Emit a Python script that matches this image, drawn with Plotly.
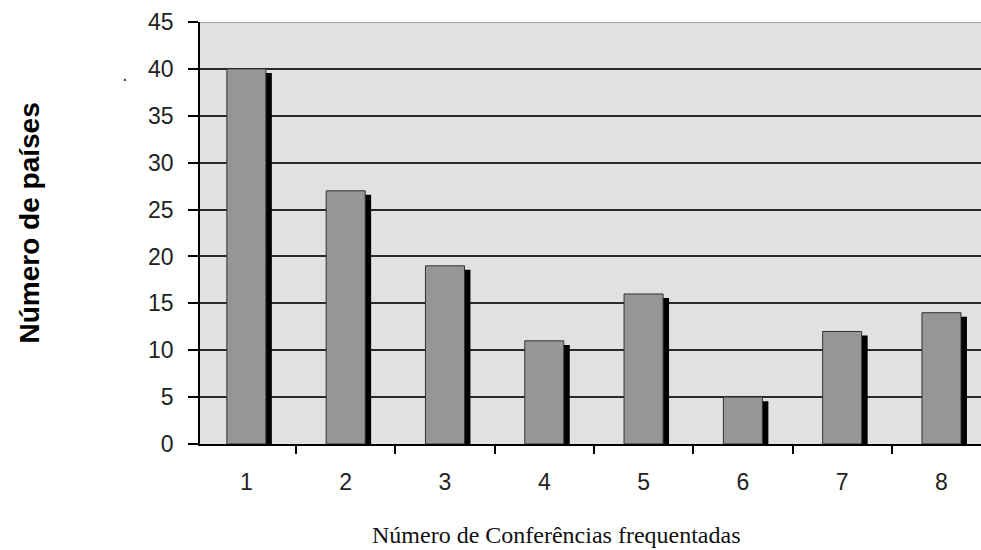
import plotly.graph_objects as go

categories = [1, 2, 3, 4, 5, 6, 7, 8]
values = [40, 27, 19, 11, 16, 5, 12, 14]
y_ticks = [0, 5, 10, 15, 20, 25, 30, 35, 40, 45]

bar_w = 0.393
shadow_dx = 0.06
shadow_dy = 0.43

fig = go.Figure()
# shadow
fig.add_trace(go.Bar(
    x=categories, y=[v - shadow_dy for v in values],
    width=bar_w, offset=-bar_w / 2 + shadow_dx,
    marker=dict(color="#000000", line=dict(width=0)),
    hoverinfo="skip", showlegend=False))
# front bars
fig.add_trace(go.Bar(
    x=categories, y=values,
    width=bar_w, offset=-bar_w / 2,
    marker=dict(color="#969696", line=dict(color="#333333", width=1)),
    showlegend=False))

fig.update_layout(
    width=981, height=550,
    margin=dict(l=200, r=0, t=22, b=106),
    paper_bgcolor="white", plot_bgcolor="#E1E1E1",
    barmode="overlay",
    font=dict(family="Liberation Sans, Arial", size=23, color="#222222"),
    xaxis=dict(
        range=[0.533, 8.398], tickmode="array", tickvals=categories,
        ticktext=[str(c) for c in categories], ticks="", showgrid=False,
        showline=True, linecolor="#000000", linewidth=1.5, zeroline=False,
        ticklabelstandoff=17,
        minor=dict(tickmode="linear", tick0=0.5, dtick=1, ticks="outside",
                   ticklen=8, tickcolor="#000000", tickwidth=1.5, showgrid=False),
    ),
    yaxis=dict(
        range=[0, 45], tickmode="array", tickvals=y_ticks,
        ticks="outside", ticklen=10, tickcolor="#000000", tickwidth=1.5,
        showgrid=True, gridcolor="#2a2a2a", gridwidth=1.5,
        showline=True, linecolor="#000000", linewidth=1.5, zeroline=False,
        ticklabelstandoff=10,
    ),
    shapes=[dict(type="line", xref="paper", yref="y", x0=0, x1=1, y0=45, y1=45,
                 line=dict(color="#A8A8A8", width=2), layer="above")],
    annotations=[
        dict(text="<b>Número de países</b>", textangle=-90, xref="paper", yref="paper",
             x=(29 - 200) / 781, y=(444 - 223.5) / 422, xanchor="center", yanchor="middle",
             showarrow=False,
             font=dict(family="Liberation Sans, Arial", size=28, color="#000000")),
        dict(text="Número de Conferências frequentadas", xref="paper", yref="paper",
             x=(556 - 200) / 781, y=(444 - 535) / 422, xanchor="center", yanchor="middle",
             showarrow=False,
             font=dict(family="Liberation Serif, Times New Roman", size=24, color="#111111")),
        dict(text=".", xref="paper", yref="paper", x=(125 - 200) / 781, y=(444 - 74) / 422,
             xanchor="center", yanchor="middle", showarrow=False,
             font=dict(family="Liberation Sans, Arial", size=20, color="#333366")),
    ],
)

fig.write_html("out.html", config={"displayModeBar": False},
               post_script="document.body.style.margin='0';document.body.style.overflow='hidden';")
